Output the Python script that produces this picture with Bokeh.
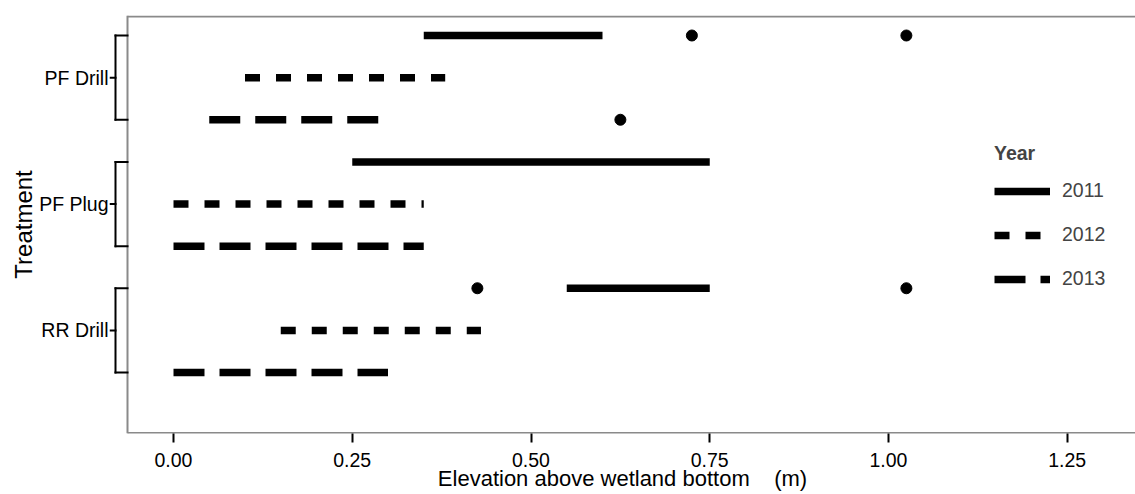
from bokeh.plotting import figure
from bokeh.models import (FixedTicker, NumeralTickFormatter, Range1d, Legend,
                          LegendItem, ColumnDataSource)
from bokeh.embed import file_html
from bokeh.resources import INLINE

# ---------------- data ----------------
treatments = ["PF Drill", "PF Plug", "RR Drill"]
years = ["2011", "2012", "2013"]

seg_treatment = ["PF Drill", "PF Drill", "PF Drill",
                 "PF Plug", "PF Plug", "PF Plug",
                 "RR Drill", "RR Drill", "RR Drill"]
seg_year = ["2011", "2012", "2013",
            "2011", "2012", "2013",
            "2011", "2012", "2013"]
seg_start = [0.35, 0.10, 0.05, 0.25, 0.00, 0.00, 0.55, 0.15, 0.00]
seg_end = [0.60, 0.38, 0.29, 0.75, 0.35, 0.35, 0.75, 0.43, 0.30]

pt_treatment = ["PF Drill", "PF Drill", "PF Drill", "RR Drill", "RR Drill"]
pt_year = ["2011", "2011", "2013", "2011", "2011"]
pt_value = [0.725, 1.025, 0.625, 0.425, 1.025]

x_ticks = [0.00, 0.25, 0.50, 0.75, 1.00, 1.25]

year_dash = {"2011": "solid", "2012": "15 16", "2013": "31 15"}

# ---------------- layout ----------------
W, H = 1135, 494
FL, FT, FB, FR = 109, 15, 433, 1135
X0 = 173.0      # pixel of x = 0
SX = 715.0      # pixels per unit
ROW_TOP = 35.0  # pixel of the top row
SY = 42.125     # pixels per row
NROWS = len(treatments) * len(years)

x_start = (FL - X0) / SX
x_end = (FR - X0) / SX
y_end = NROWS + (ROW_TOP - FT) / SY
y_start = y_end - (FB - FT) / SY


def dx(px):
    return x_start + (px - FL) / SX


def dy(px):
    return y_end - (px - FT) / SY


def row(t, y):
    return NROWS - (treatments.index(t) * len(years) + years.index(y))


FONT = "Liberation Sans"
FS = "19.5px"

p = figure(width=W, height=H, output_backend="svg", toolbar_location=None,
           x_range=Range1d(x_start, x_end), y_range=Range1d(y_start, y_end),
           min_border_left=FL, min_border_right=0, min_border_top=FT,
           min_border_bottom=H - FB)
p.outline_line_color = None
p.xgrid.visible = False
p.ygrid.visible = False
p.background_fill_color = "white"
p.border_fill_color = "white"

# panel border (left, top, bottom)
BORDER = "#8a8a8a"
p.segment(x0=[dx(127), dx(127), dx(127)], y0=[dy(FT), dy(16), dy(FB - 0.5)],
          x1=[dx(127), x_end, x_end], y1=[dy(FB), dy(16), dy(FB - 0.5)],
          line_color=BORDER, line_width=2)

# brackets
bx0, by0, bx1, by1 = [], [], [], []
for t in treatments:
    top = row(t, years[0])
    mid = row(t, years[1])
    bot = row(t, years[-1])
    bx0 += [dx(115), dx(115), dx(115), dx(110)]
    bx1 += [dx(115), dx(127), dx(127), dx(115)]
    by0 += [top, top, bot, mid]
    by1 += [bot, top, bot, mid]
p.segment(x0=bx0, y0=by0, x1=bx1, y1=by1, line_color="black", line_width=2,
          line_cap="square")

# data segments by year
renderers = {}
for yr in years:
    idx = [i for i, y in enumerate(seg_year) if y == yr]
    src = ColumnDataSource(dict(
        x0=[seg_start[i] for i in idx], x1=[seg_end[i] for i in idx],
        y=[row(seg_treatment[i], seg_year[i]) for i in idx]))
    renderers[yr] = p.segment(x0="x0", y0="y", x1="x1", y1="y", source=src,
                              line_color="black", line_width=7.5,
                              line_dash=year_dash[yr], line_cap="butt")

# points
psrc = ColumnDataSource(dict(x=pt_value,
                             y=[row(t, y) for t, y in zip(pt_treatment, pt_year)]))
p.scatter(x="x", y="y", source=psrc, size=11, color="black")

# axes
p.xaxis.ticker = FixedTicker(ticks=x_ticks)
p.xaxis.formatter = NumeralTickFormatter(format="0.00")
p.xaxis.axis_line_color = None
p.xaxis.major_tick_line_color = "black"
p.xaxis.major_tick_line_width = 2
p.xaxis.major_tick_in = 0
p.xaxis.major_tick_out = 9
p.xaxis.minor_tick_line_color = None
p.xaxis.major_label_standoff = 10
p.xaxis.major_label_text_font = FONT
p.xaxis.major_label_text_font_size = FS
p.xaxis.major_label_text_color = "black"
p.xaxis.axis_label = "Elevation above wetland bottom \u00a0\u00a0 (m)"
p.xaxis.axis_label_text_font = FONT
p.xaxis.axis_label_text_font_size = "22px"
p.xaxis.axis_label_text_font_style = "normal"
p.xaxis.axis_label_text_color = "black"
p.xaxis.axis_label_standoff = -4

centers = [row(t, years[1]) for t in treatments]
p.yaxis.ticker = FixedTicker(ticks=centers)
p.yaxis.major_label_overrides = {c: t for c, t in zip(centers, treatments)}
p.yaxis.axis_line_color = None
p.yaxis.major_tick_line_color = None
p.yaxis.minor_tick_line_color = None
p.yaxis.major_tick_in = 0
p.yaxis.major_tick_out = 0
p.yaxis.major_label_standoff = 1
p.yaxis.major_label_text_font = FONT
p.yaxis.major_label_text_font_size = FS
p.yaxis.major_label_text_color = "black"
p.yaxis.axis_label = "Treatment"
p.yaxis.axis_label_text_font = FONT
p.yaxis.axis_label_text_font_size = "24px"
p.yaxis.axis_label_text_font_style = "normal"
p.yaxis.axis_label_text_color = "black"
p.yaxis.axis_label_standoff = -1

legend = Legend(items=[LegendItem(label=yr, renderers=[renderers[yr]]) for yr in years],
                location=(885, 143), title="Year",
                title_text_font=FONT, title_text_font_size=FS,
                title_text_font_style="bold", title_standoff=14,
                label_text_font=FONT, label_text_font_size=FS,
                label_standoff=12, glyph_width=56, glyph_height=22,
                label_height=22, spacing=21, padding=0, margin=0,
                border_line_color=None, background_fill_alpha=0)
p.add_layout(legend)

open("out.html", "w").write(file_html(p, INLINE))
